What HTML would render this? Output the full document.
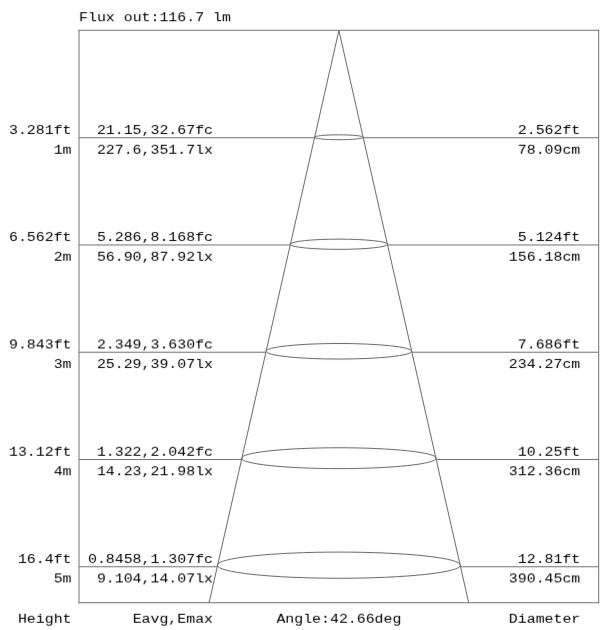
<!DOCTYPE html>
<html><head><meta charset="utf-8"><title>Cone diagram</title>
<style>
html,body{margin:0;padding:0;background:#fff;}
body{width:606px;height:630px;overflow:hidden;}
svg{display:block;will-change:transform;}
text{font-family:"Liberation Mono",monospace;font-size:14.9px;fill:#000;}
.e{text-anchor:end;}
.m{text-anchor:middle;}
.g{stroke:#6e6e6e;stroke-width:1;fill:none;}
.sq{stroke-linecap:square;}
.c{stroke:#646464;}
</style></head><body>
<svg width="606" height="630" viewBox="0 0 606 630">
<defs>
<filter id="soft" filterUnits="userSpaceOnUse" x="0" y="0" width="606" height="630"><feConvolveMatrix order="3" divisor="1" edgeMode="none" preserveAlpha="false" kernelMatrix="0.00090 0.02820 0.00090 0.02820 0.88360 0.02820 0.00090 0.02820 0.00090"/></filter>
<filter id="t0" filterUnits="userSpaceOnUse" x="0" y="0" width="606" height="630"><feConvolveMatrix order="3" divisor="1" edgeMode="none" preserveAlpha="false" kernelMatrix="0.01584 0.19457 0.01584 0.05416 0.66542 0.05416 0.00000 0.00000 0.00000"/></filter>
<filter id="t1" filterUnits="userSpaceOnUse" x="0" y="0" width="606" height="630"><feConvolveMatrix order="3" divisor="1" edgeMode="none" preserveAlpha="false" kernelMatrix="0.00490 0.06020 0.00490 0.06020 0.73960 0.06020 0.00490 0.06020 0.00490"/></filter>
<filter id="t2" filterUnits="userSpaceOnUse" x="0" y="0" width="606" height="630"><feConvolveMatrix order="3" divisor="1" edgeMode="none" preserveAlpha="false" kernelMatrix="0.00000 0.00000 0.00000 0.05416 0.66542 0.05416 0.01584 0.19457 0.01584"/></filter>
<filter id="t3" filterUnits="userSpaceOnUse" x="0" y="0" width="606" height="630"><feConvolveMatrix order="3" divisor="1" edgeMode="none" preserveAlpha="false" kernelMatrix="0.00000 0.00000 0.00000 0.03885 0.47730 0.03885 0.03115 0.38270 0.03115"/></filter>
</defs>
<rect x="0" y="0" width="606" height="630" fill="#fff"/>
<g class="g" filter="url(#soft)">
<path class="sq" d="M79.0 30.3 H598.68"/>
<path class="sq" d="M79.0 602.73 H598.68"/>
<path class="sq" d="M79.0 30.3 V602.73"/>
<path class="sq" d="M598.68 30.3 V602.73"/>
<path class="c" d="M209.10 602.73 L338.9 30.4 L468.70 602.73"/>
<path d="M79.0 137.72 H314.56 M363.24 137.72 H598.68"/>
<ellipse class="c" cx="338.9" cy="137.27" rx="24.34" ry="2.45"/>
<path d="M79.0 244.98 H290.23 M387.57 244.98 H598.68"/>
<ellipse class="c" cx="338.9" cy="244.25" rx="48.67" ry="5.11"/>
<path d="M79.0 352.24 H265.91 M411.89 352.24 H598.68"/>
<ellipse class="c" cx="338.9" cy="351.27" rx="72.99" ry="7.78"/>
<path d="M79.0 459.50 H241.58 M436.22 459.50 H598.68"/>
<ellipse class="c" cx="338.9" cy="458.19" rx="97.32" ry="10.43"/>
<path d="M79.0 566.76 H217.25 M460.55 566.76 H598.68"/>
<ellipse class="c" cx="338.9" cy="565.18" rx="121.65" ry="13.1"/>
</g>
<g filter="url(#t0)">
<text class="e" transform="translate(71.5,154) scale(1,0.92)">1m</text>
<text class="e" transform="translate(213.0,154) scale(1,0.92)">227.6,351.7lx</text>
<text class="e" transform="translate(580.3,154) scale(1,0.92)">78.09cm</text>
<text class="e" transform="translate(71.5,261) scale(1,0.92)">2m</text>
<text class="e" transform="translate(213.0,261) scale(1,0.92)">56.90,87.92lx</text>
<text class="e" transform="translate(580.3,261) scale(1,0.92)">156.18cm</text>
<text class="e" transform="translate(71.5,456) scale(1,0.92)">13.12ft</text>
<text class="e" transform="translate(213.0,456) scale(1,0.92)">1.322,2.042fc</text>
<text class="e" transform="translate(580.3,456) scale(1,0.92)">10.25ft</text>
<text class="e" transform="translate(71.5,623) scale(1,0.92)">Height</text>
<text class="e" transform="translate(213.0,623) scale(1,0.92)">Eavg,Emax</text>
<text class="m" transform="translate(338.9,623) scale(1,0.92)">Angle:42.66deg</text>
<text class="e" transform="translate(580.3,623) scale(1,0.92)">Diameter</text>
</g>
<g filter="url(#t1)">
<text class="e" transform="translate(71.5,134) scale(1,0.92)">3.281ft</text>
<text class="e" transform="translate(213.0,134) scale(1,0.92)">21.15,32.67fc</text>
<text class="e" transform="translate(580.3,134) scale(1,0.92)">2.562ft</text>
<text class="e" transform="translate(71.5,241) scale(1,0.92)">6.562ft</text>
<text class="e" transform="translate(213.0,241) scale(1,0.92)">5.286,8.168fc</text>
<text class="e" transform="translate(580.3,241) scale(1,0.92)">5.124ft</text>
<text class="e" transform="translate(71.5,368) scale(1,0.92)">3m</text>
<text class="e" transform="translate(213.0,368) scale(1,0.92)">25.29,39.07lx</text>
<text class="e" transform="translate(580.3,368) scale(1,0.92)">234.27cm</text>
<text class="e" transform="translate(71.5,563) scale(1,0.92)">16.4ft</text>
<text class="e" transform="translate(213.0,563) scale(1,0.92)">0.8458,1.307fc</text>
<text class="e" transform="translate(580.3,563) scale(1,0.92)">12.81ft</text>
</g>
<g filter="url(#t2)">
<text transform="translate(79.05,21) scale(1,0.92)">Flux out:116.7 lm</text>
<text class="e" transform="translate(71.5,475) scale(1,0.92)">4m</text>
<text class="e" transform="translate(213.0,475) scale(1,0.92)">14.23,21.98lx</text>
<text class="e" transform="translate(580.3,475) scale(1,0.92)">312.36cm</text>
</g>
<g filter="url(#t3)">
<text class="e" transform="translate(71.5,348) scale(1,0.92)">9.843ft</text>
<text class="e" transform="translate(213.0,348) scale(1,0.92)">2.349,3.630fc</text>
<text class="e" transform="translate(580.3,348) scale(1,0.92)">7.686ft</text>
<text class="e" transform="translate(71.5,582) scale(1,0.92)">5m</text>
<text class="e" transform="translate(213.0,582) scale(1,0.92)">9.104,14.07lx</text>
<text class="e" transform="translate(580.3,582) scale(1,0.92)">390.45cm</text>
</g>
</svg></body></html>
